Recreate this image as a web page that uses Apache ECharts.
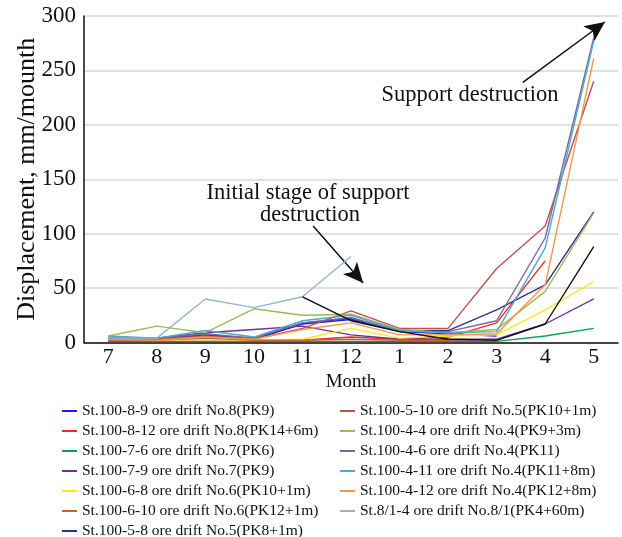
<!DOCTYPE html>
<html><head><meta charset="utf-8">
<script src="https://cdn.jsdelivr.net/npm/echarts@6/dist/echarts.min.js"></script>
<style>html,body{margin:0;padding:0;background:#fff}#c{width:622px;height:537px}</style>
</head><body><div id="c"></div>
<script>
const months = ['7','8','9','10','11','12','1','2','3','4','5'];
const yTicks = [0,50,100,150,200,250,300];
const names = [
  'St.100-8-9 ore drift No.8(PK9)',
  'St.100-8-12 ore drift No.8(PK14+6m)',
  'St.100-7-6 ore drift No.7(PK6)',
  'St.100-7-9 ore drift No.7(PK9)',
  'St.100-6-8 ore drift No.6(PK10+1m)',
  'St.100-6-10 ore drift No.6(PK12+1m)',
  'St.100-5-8 ore drift No.5(PK8+1m)',
  'St.100-5-10 ore drift No.5(PK10+1m)',
  'St.100-4-4 ore drift No.4(PK9+3m)',
  'St.100-4-6 ore drift No.4(PK11)',
  'St.100-4-11 ore drift No.4(PK11+8m)',
  'St.100-4-12 ore drift No.4(PK12+8m)',
  'St.8/1-4 ore drift No.8/1(PK4+60m)'
];
const s_8_9   = [3,3,7,3,17,21,10,8,6,null,null];
const s_8_12  = [1,1,1,1,2,5,3,5,18,75,null];
const s_7_6   = [1,1,1,1,1,1,1,1,1,6,13];
const s_7_9   = [4,4,9,12,15,7,3,3,3,17,40];
const s_6_8   = [2,2,3,2,3,13,4,6,7,30,56];
const s_6_10  = [2,2,4,2,2,3,2,2,3,null,null];
const s_5_8   = [3,3,7,4,18,22,11,11,30,53,120];
const s_5_10  = [3,3,6,3,13,29,13,13,68,107,240];
const s_4_4   = [6,15,9,31,25,26,12,9,12,47,119];
const s_4_6   = [4,4,8,4,18,23,10,10,20,96,280];
const s_4_11  = [6,4,11,5,20,25,11,9,10,87,277];
const s_4_12  = [3,2,5,3,12,18,7,7,8,53,261];
const s_8_1_4 = [4,4,40,32,42,79,null,null,null,null,null];
const s_black = [null,null,null,null,42,20,10,3,2,17,88];
const seriesValues = [s_8_9,s_8_12,s_7_6,s_7_9,s_6_8,s_6_10,s_5_8,s_5_10,s_4_4,s_4_6,s_4_11,s_4_12,s_8_1_4];
const colors = ['#1c1cf0','#ee2a22','#00a651','#7030a0','#ffe81a','#c8642a','#2e3192',
                '#c0504d','#9bbb59','#8064a2','#4bacc6','#f79646','#95b3d7'];

const FONT = 'Liberation Serif';
const toPairs = arr => arr.map((v,i)=> v==null ? [i,null] : [i,v]);
const monthIdx = months.map((m,i)=>i);

const series = seriesValues.map((arr,k)=>({
  name: names[k], type:'line', data: toPairs(arr), showSymbol:false, symbol:'none',
  connectNulls:false, lineStyle:{width:1.4,color:colors[k]}, itemStyle:{color:colors[k]}, z:2+k
}));
series.push({
  name:'', type:'line', data: toPairs(s_black), showSymbol:false, symbol:'none',
  lineStyle:{width:1.4,color:'#111'}, itemStyle:{color:'#111'}, z:20,
  markLine:{
    silent:true, symbol:['none','arrow'], symbolSize:[14,20],
    lineStyle:{color:'#111',width:1.5,type:'solid'}, label:{show:false},
    data:[
      [{coord:[8.54,239]},{coord:[10.23,294.5]}],
      [{coord:[4.22,107]},{coord:[5.25,54.7]}]
    ]
  }
});

const chart = echarts.init(document.getElementById('c'), null, {renderer:'canvas'});
chart.setOption({
  animation:false,
  backgroundColor:'#fff',
  textStyle:{fontFamily:FONT},
  grid:{left:84, top:16, right:4, bottom:194.5, containLabel:false, outerBoundsMode:'none'},
  xAxis:{
    type:'value', min:-0.5, max:months.length-0.5,
    name:'Month', nameLocation:'middle', nameGap:30, nameMoveOverlap:false,
    nameTextStyle:{fontFamily:FONT,fontSize:19,color:'#111'},
    axisLine:{show:true,onZero:false,lineStyle:{color:'#111',width:1.5}},
    axisTick:{show:false, customValues:monthIdx},
    splitLine:{show:false},
    axisLabel:{fontFamily:FONT,fontSize:22,color:'#111',margin:4, customValues:monthIdx,
      formatter:v=> months[Math.round(v)] || ''}
  },
  yAxis:{
    type:'value', min:yTicks[0], max:yTicks[yTicks.length-1], interval:50,
    name:'Displacement, mm/mounth', nameLocation:'middle', nameGap:44, nameMoveOverlap:false,
    nameTextStyle:{fontFamily:FONT,fontSize:26,color:'#111'},
    axisLine:{show:true,onZero:false,lineStyle:{color:'#111',width:1.5}},
    axisTick:{show:false},
    splitLine:{show:true,lineStyle:{color:'#d9d9d9',width:1.5}},
    axisLabel:{fontFamily:FONT,fontSize:23,color:'#111',margin:8}
  },
  legend:[
    {orient:'vertical', left:62, top:403, height:200, itemWidth:15, itemHeight:2, icon:'rect', itemGap:4,
     data:names.slice(0,7), textStyle:{fontFamily:FONT,fontSize:15.5,color:'#111',lineHeight:14}, padding:0},
    {orient:'vertical', left:340, top:403, height:200, itemWidth:15, itemHeight:2, icon:'rect', itemGap:4,
     data:names.slice(7), textStyle:{fontFamily:FONT,fontSize:15.5,color:'#111',lineHeight:14}, padding:0}
  ],
  graphic:[
    {type:'text', style:{text:'Support destruction', x:470, y:95, align:'center', verticalAlign:'middle',
      font:'22.5px "Liberation Serif"', fill:'#111'}},
    {type:'text', style:{text:'Initial stage of support', x:308, y:193, align:'center', verticalAlign:'middle',
      font:'22.5px "Liberation Serif"', fill:'#111'}},
    {type:'text', style:{text:'destruction', x:310, y:215, align:'center', verticalAlign:'middle',
      font:'22.5px "Liberation Serif"', fill:'#111'}}
  ],
  series: series
});
</script></body></html>
